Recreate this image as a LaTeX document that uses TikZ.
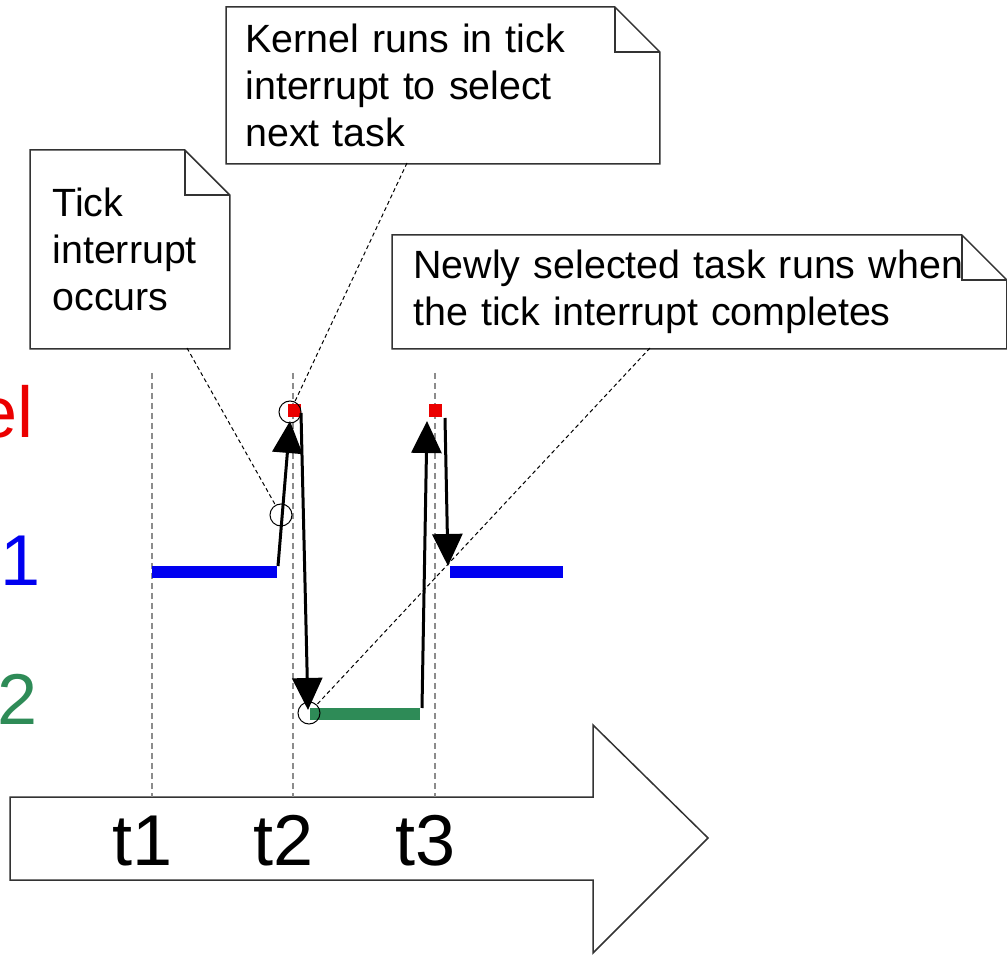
\documentclass[tikz,border=0pt]{standalone}
\usepackage{fontspec}
\setmainfont{Liberation Sans}
\usepackage{tikz}
\usetikzlibrary{arrows.meta}
\definecolor{kernel}{RGB}{235, 0, 0}
\definecolor{task1}{RGB}{0, 0, 240}
\definecolor{task2}{RGB}{46, 139, 87}
\definecolor{guide}{RGB}{140, 140, 140}

\tikzset{
  note/.style={anchor=north west, inner ysep=0pt, align=left,
               font=\fontsize{19.7pt}{23.5pt}\selectfont},
  outline/.style={draw=black!80, line width=0.75pt},
  lane/.style={anchor=base west, inner sep=0pt, font=\fontsize{36pt}{40pt}\selectfont},
  tick/.style={anchor=base, inner sep=0pt, font=\fontsize{36pt}{40pt}\selectfont},
  run/.style={-{Triangle[length=16pt, width=15pt]}, line width=1.5pt},
  bar/.style={line width=6pt},
  ring/.style={circle, draw, line width=0.5pt, minimum size=11pt, inner sep=0pt},
  kbox/.style={fill=kernel, minimum size=6.5pt, inner sep=0pt},
  callout/.style={dash pattern=on 2pt off 1.5pt, line width=0.5pt}
}

\begin{document}
\begin{tikzpicture}[x=0.5pt, y=-0.5pt]
  \useasboundingbox (0, 0) rectangle (1007, 956);

  % time axis
  \draw[outline] (10, 797) -- (593, 797) -- (593, 725) -- (708, 838)
                 -- (593, 953) -- (593, 880) -- (10, 880) -- cycle;

  \foreach [count=\n] \x in {152, 293, 435} {
    \draw[guide, dash pattern=on 3pt off 2pt, line width=1pt] (\x, 373) -- (\x, 797);
    \node[tick] (t\n) at (\x - 9, 865) { t\n };
  }

  % lanes
  \node[lane, kernel] (lane0) at (-23, 438) { el };
  \node[lane, task1] (lane1) at (0, 586) { 1 };
  \node[lane, task2] (lane2) at (-3, 725) { 2 };

  \draw[bar, task1] (152, 572) -- (277, 572);
  \draw[bar, task1] (450, 572) -- (563, 572);
  \draw[bar, task2] (310, 714) -- (420, 714);

  \node[kbox] (k1) at (294, 411) {};
  \node[kbox] (k2) at (435, 411) {};

  % context switches
  \coordinate (u1s) at (278, 566);
  \coordinate (u1e) at (290, 421);
  \coordinate (d1s) at (301, 413);
  \coordinate (d1e) at (308, 710);
  \coordinate (u2s) at (422, 708);
  \coordinate (u2e) at (427, 421);
  \coordinate (d2s) at (445, 418);
  \coordinate (d2e) at (448, 566);
  \draw[run] (u1s) -- (u1e);
  \draw[run] (d1s) -- (d1e);
  \draw[run] (u2s) -- (u2e);
  \draw[run] (d2s) -- (d2e);

  \node[ring] (c1) at (281, 515) {};
  \node[ring] (c2) at (290, 412) {};
  \node[ring] (c3) at (309, 713) {};

  % notes
  \node[note, inner xsep=11pt, text width=77.5pt, minimum height=99pt]
    (tick) at (30, 150) { Tick\\ interrupt\\ occurs };
  \node[note, inner xsep=9.5pt, text width=197.5pt, minimum height=78pt]
    (kernel) at (226, 7) { Kernel runs in tick\\ interrupt to select\\ next task };
  \node[note, inner xsep=10.5pt, text width=286pt, minimum height=56.5pt]
    (newly) at (392, 235) { Newly selected task runs when\\ the tick interrupt completes };

  \foreach \b in {tick, kernel, newly} {
    \draw[outline] (\b.south west) -- (\b.north west) -- ([xshift=-22.5pt]\b.north east)
                   -- ([yshift=-22.5pt]\b.north east) -- (\b.south east) -- cycle;
    \draw[outline] ([xshift=-22.5pt]\b.north east) |- ([yshift=-22.5pt]\b.north east);
  }

  \coordinate (tickfoot) at (187, 348);
  \coordinate (kernelfoot) at (407, 163);
  \coordinate (newlyfoot) at (650, 348);
  \draw[callout] (tickfoot) -- (c1);
  \draw[callout] (kernelfoot) -- (c2);
  \draw[callout] (newlyfoot) -- (c3);

\end{tikzpicture}
\end{document}
